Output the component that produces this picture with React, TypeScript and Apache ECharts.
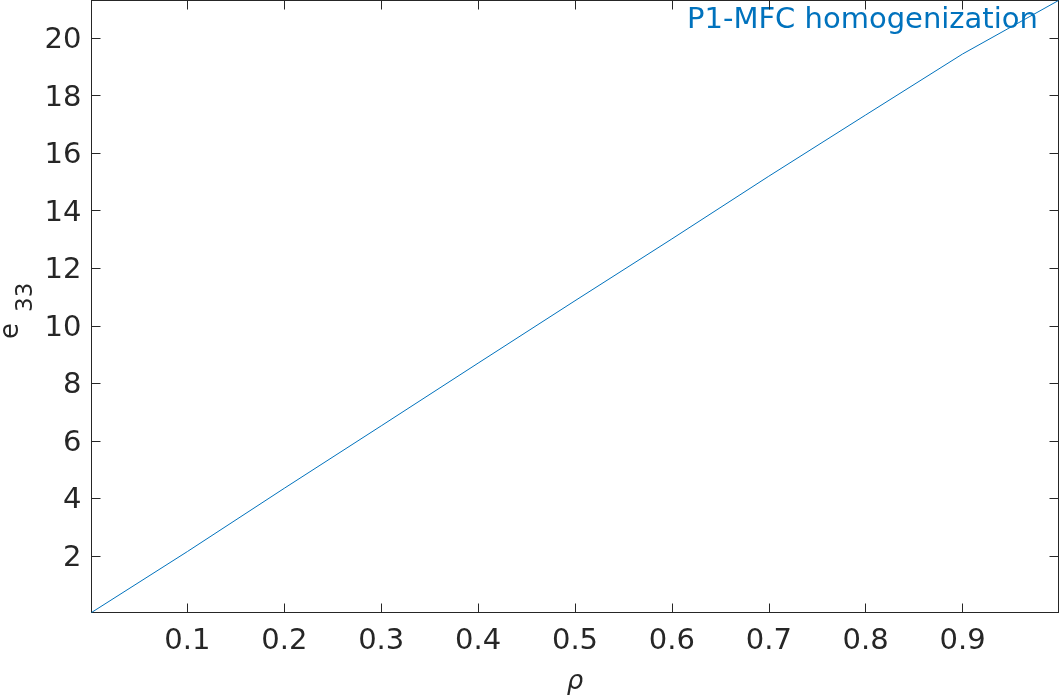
import React, { useEffect, useRef } from "react";
import * as echarts from "echarts";

const rho = [0.001, 0.1, 0.2, 0.3, 0.4, 0.5, 0.6, 0.7, 0.8, 0.9, 0.999];
const e33 = [0.03, 2.15, 4.35, 6.52, 8.7, 10.87, 13.02, 15.2, 17.33, 19.45, 21.31];
const xTicks = [0.1, 0.2, 0.3, 0.4, 0.5, 0.6, 0.7, 0.8, 0.9];
const yTicks = [2, 4, 6, 8, 10, 12, 14, 16, 18, 20];
const seriesName = "P1-MFC homogenization";

const FONT = "DejaVu Sans";
const DARK = "#262626";
const BLUE = "#0072BD";

export default function App() {
  const ref = useRef<HTMLDivElement>(null);
  useEffect(() => {
    if (!ref.current) return;
    const chart = echarts.init(ref.current, undefined, { renderer: "svg" });
    const xMin = rho[0];
    const xMax = rho[rho.length - 1];
    const yMin = e33[0];
    const yMax = e33[e33.length - 1];
    const axisBase = (pos: string) => ({
      type: "value",
      position: pos,
      axisLine: { show: true, onZero: false, lineStyle: { color: DARK, width: 1 } },
      splitLine: { show: false },
    });
    chart.setOption({
      animation: false,
      grid: { left: 91.5, right: 0.5, top: 0.5, bottom: 82.5, containLabel: false },
      xAxis: [
        {
          ...axisBase("bottom"),
          min: xMin,
          max: xMax,
          axisTick: { show: true, inside: true, length: 9, customValues: xTicks, lineStyle: { color: DARK } },
          axisLabel: {
            show: true,
            customValues: xTicks,
            formatter: (v: number) => String(Math.round(v * 10) / 10),
            fontFamily: FONT,
            fontSize: 29,
            color: DARK,
            margin: 12,
          },
        },
        {
          ...axisBase("top"),
          min: xMin,
          max: xMax,
          axisTick: { show: true, inside: true, length: 9, customValues: xTicks, lineStyle: { color: DARK } },
          axisLabel: { show: false },
        },
      ],
      yAxis: [
        {
          ...axisBase("left"),
          min: yMin,
          max: yMax,
          axisTick: { show: true, inside: true, length: 9, customValues: yTicks, lineStyle: { color: DARK } },
          axisLabel: {
            show: true,
            customValues: yTicks,
            fontFamily: FONT,
            fontSize: 29,
            color: DARK,
            margin: 10,
          },
        },
        {
          ...axisBase("right"),
          min: yMin,
          max: yMax,
          axisTick: { show: true, inside: true, length: 9, customValues: yTicks, lineStyle: { color: DARK } },
          axisLabel: { show: false },
        },
      ],
      series: [
        {
          name: seriesName,
          type: "line",
          data: rho.map((r, i) => [r, e33[i]]),
          showSymbol: false,
          lineStyle: { color: BLUE, width: 1 },
          itemStyle: { color: BLUE },
          clip: true,
        },
      ],
      graphic: [
        {
          type: "text",
          x: 687,
          y: 3.3,
          style: { text: seriesName, fontFamily: FONT, fontSize: 29, fill: BLUE, verticalAlign: "top", align: "left" },
        },
        {
          type: "text",
          x: 575,
          y: 680,
          style: { text: "ρ", fontFamily: FONT, fontStyle: "italic", fontSize: 26, fill: DARK, verticalAlign: "middle", align: "center" },
        },
        {
          type: "group",
          x: 0,
          y: 339,
          rotation: Math.PI / 2,
          children: [
            {
              type: "text",
              x: 0,
              y: 8.5,
              style: { text: "e", fontFamily: FONT, fontSize: 26, lineHeight: 12, fill: DARK, verticalAlign: "middle", align: "left" },
            },
            {
              type: "text",
              x: 27,
              y: 24,
              style: { text: "33", fontFamily: FONT, fontSize: 23, lineHeight: 12, fill: DARK, verticalAlign: "middle", align: "left" },
            },
          ],
        },
      ],
    });
    return () => chart.dispose();
  }, []);
  return <div ref={ref} style={{ position: "fixed", left: 0, top: 0, width: 1059, height: 695 }} />;
}
